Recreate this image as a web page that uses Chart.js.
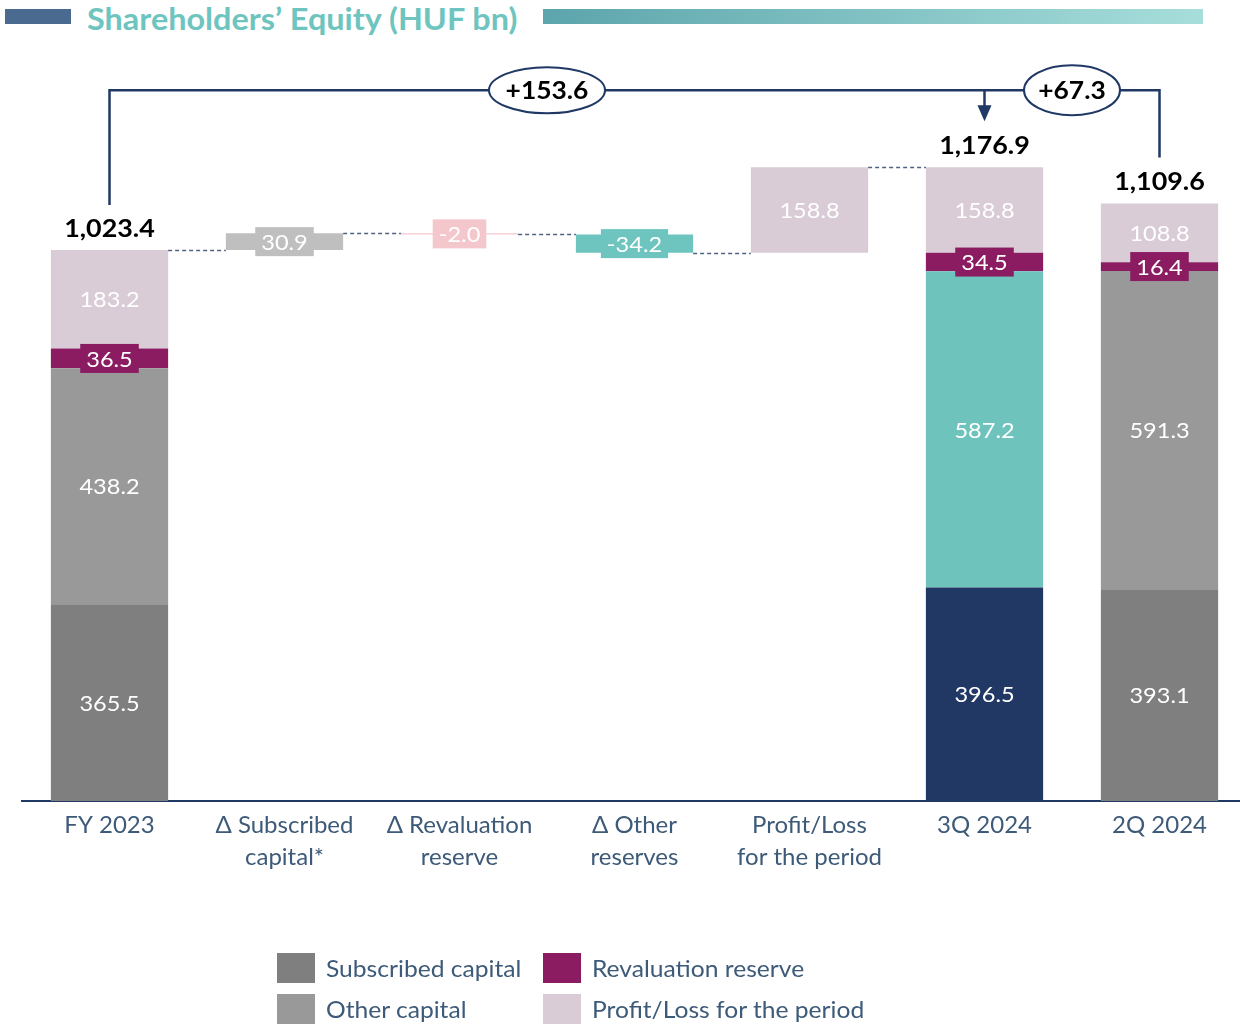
<!DOCTYPE html>
<html>
<head>
<meta charset="utf-8">
<script src="https://cdn.jsdelivr.net/npm/chart.js@4.4.1/dist/chart.umd.min.js"></script>
<style>
  html, body { margin: 0; padding: 0; background: #fff; overflow: hidden; width: 1240px; height: 1025px; }
  #wrap { position: relative; width: 1240px; height: 1025px; overflow: hidden; }
  #chart { position: absolute; left: 0; top: 0; }
  .bar-left { position: absolute; left: 5px; top: 9px; width: 66px; height: 15px; background: #4A6B8F; }
  .bar-right { position: absolute; left: 543px; top: 9px; width: 660px; height: 15px;
               background: linear-gradient(90deg, #5CA5AC, #A7DEDB); }
  .title { position: absolute; left: 87px; top: 0px; font: bold 30px Lato, sans-serif; color: #6EC4BE;
           line-height: 36px; white-space: nowrap; transform: scaleX(1.08); transform-origin: left center; }
  .legend-item { position: absolute; display: flex; align-items: center; font: 23px Lato, sans-serif;
                 color: #3D5A78; white-space: nowrap; }
  .swatch { width: 38px; height: 30px; margin-right: 11px; }
  .legend-item span { display: inline-block; transform: scaleX(1.07); transform-origin: left center; }
</style>
</head>
<body>
<div id="wrap">
  <div class="bar-left"></div>
  <div class="title">Shareholders’ Equity (HUF bn)</div>
  <div class="bar-right"></div>
  <canvas id="chart" width="1250" height="1025"></canvas>
  <div id="legend"></div>
</div>
<script>
// Categories along the bridge
const categories = [
  ['FY 2023'],
  ['Δ Subscribed', 'capital*'],
  ['Δ Revaluation', 'reserve'],
  ['Δ Other', 'reserves'],
  ['Profit/Loss', 'for the period'],
  ['3Q 2024'],
  ['2Q 2024']
];

// Equity components (HUF bn) for the period-end columns
const seriesNames = ['Subscribed capital', 'Other capital', 'Revaluation reserve', 'Profit/Loss for the period'];
const subscribedCapital  = [365.5, null, null, null, null, 396.5, 393.1];
const otherCapital       = [438.2, null, null, null, null, 587.2, 591.3];
const revaluationReserve = [36.5,  null, null, null, null, 34.5,  16.4];
const profitLoss         = [183.2, null, null, null, null, 158.8, 108.8];
const totals             = [1023.4, null, null, null, null, 1176.9, 1109.6];

// Movements between FY 2023 and 3Q 2024
const changes = [null, 30.9, -2.0, -34.2, 158.8, null, null];

// Overall changes shown in the bracket: FY 2023 -> 3Q 2024, 2Q 2024 -> 3Q 2024
const bridgeLabels = ['+153.6', '+67.3'];

// Colours
const legendColors = ['#7F7F7F', '#999999', '#8B1C62', '#D9CCD6'];
const segmentColors = [
  ['#7F7F7F', null, null, null, null, '#213764', '#7F7F7F'],
  ['#999999', null, null, null, null, '#6EC3BD', '#999999'],
  ['#8B1C62', null, null, null, null, '#8B1C62', '#8B1C62'],
  ['#D9CCD6', null, null, null, null, '#D9CCD6', '#D9CCD6']
];
const changeColors = [null, '#BFBFBF', '#F4C7CD', '#6EC4BE', '#D9CCD6', null, null];
const NAVY = '#1F3864';

// Build floating [start, end] segments for the stacked columns
const components = [subscribedCapital, otherCapital, revaluationReserve, profitLoss];
const stacked = components.map(() => categories.map(() => null));
categories.forEach((_, i) => {
  let cum = 0;
  components.forEach((arr, k) => {
    if (arr[i] != null) {
      stacked[k][i] = [cum, cum + arr[i]];
      cum += arr[i];
    }
  });
});

// Waterfall movements and the running level after each column
const changeBars = categories.map(() => null);
const levels = categories.map((_, i) => totals[i]);
let running = totals[0];
changes.forEach((c, i) => {
  if (c != null) {
    changeBars[i] = [running, running + c];
    running += c;
    levels[i] = running;
  }
});

const datasets = components.map((arr, k) => ({
  label: seriesNames[k],
  data: stacked[k],
  rawValues: arr,
  backgroundColor: segmentColors[k]
}));
datasets.push({
  label: 'Change',
  data: changeBars,
  rawValues: changes,
  backgroundColor: changeColors
});

// Text drawn slightly widened, centred on (x, y)
function wideText(ctx, text, x, y, sx) {
  ctx.save();
  ctx.translate(x, y);
  ctx.scale(sx, 1);
  ctx.fillText(text, 0, 0);
  ctx.restore();
}

// Labels, connectors and the bracket on top of the bars
const overlay = {
  id: 'overlay',
  afterDatasetsDraw(chart) {
    const ctx = chart.ctx;
    const xs = chart.scales.x, ys = chart.scales.y;
    const changeMeta = chart.getDatasetMeta(components.length);
    const anyMeta = chart.getDatasetMeta(0);
    const halfWidth = (i) => {
      const el = (changeBars[i] ? changeMeta : anyMeta).data[i];
      return el.width / 2;
    };

    // dashed connectors between consecutive columns
    ctx.save();
    ctx.strokeStyle = '#4F6283';
    ctx.lineWidth = 1.3;
    ctx.setLineDash([4, 3]);
    for (let i = 0; i < categories.length - 1; i++) {
      if (changes[i] == null && changes[i + 1] == null) continue;
      const yy = Math.round(ys.getPixelForValue(levels[i])) + 0.5;
      const x1 = xs.getPixelForValue(i) + halfWidth(i);
      const x2 = xs.getPixelForValue(i + 1) - halfWidth(i + 1);
      ctx.beginPath();
      ctx.moveTo(x1, yy);
      ctx.lineTo(x2, yy);
      ctx.stroke();
    }
    ctx.restore();

    // value labels inside each bar
    ctx.save();
    ctx.textAlign = 'center';
    ctx.textBaseline = 'middle';
    ctx.font = '22px Lato, sans-serif';
    const sxVal = 1.07;
    chart.data.datasets.forEach((ds, k) => {
      const meta = chart.getDatasetMeta(k);
      ds.data.forEach((v, i) => {
        if (v == null) return;
        const el = meta.data[i];
        const p = el.getProps(['x', 'y', 'base'], true);
        const cy = (p.y + p.base) / 2;
        const h = Math.abs(p.base - p.y);
        const text = ds.rawValues[i].toFixed(1);
        const color = Array.isArray(ds.backgroundColor) ? ds.backgroundColor[i] : ds.backgroundColor;
        if (h < 30) {
          const w = ctx.measureText(text).width * sxVal + 12;
          ctx.fillStyle = color;
          ctx.fillRect(p.x - w / 2, cy - 14.5, w, 29);
        }
        ctx.fillStyle = '#FFFFFF';
        wideText(ctx, text, p.x, cy + 1, sxVal);
      });
    });

    // totals above the period-end columns
    ctx.font = 'bold 24px Lato, sans-serif';
    ctx.fillStyle = '#000000';
    totals.forEach((t, i) => {
      if (t == null) return;
      const label = t.toLocaleString('en-US', { minimumFractionDigits: 1, maximumFractionDigits: 1 });
      wideText(ctx, label, xs.getPixelForValue(i), ys.getPixelForValue(t) - 21, 1.12);
    });
    ctx.restore();

    // bracket linking FY 2023, 3Q 2024 and 2Q 2024
    const iStart = 0, iMid = 5, iEnd = 6;
    const xA = xs.getPixelForValue(iStart), xB = xs.getPixelForValue(iMid), xC = xs.getPixelForValue(iEnd);
    const yLine = chart.chartArea.top + 43;
    ctx.save();
    ctx.strokeStyle = NAVY;
    ctx.fillStyle = NAVY;
    ctx.lineWidth = 2.5;
    ctx.lineJoin = 'miter';
    ctx.beginPath();
    ctx.moveTo(xA, ys.getPixelForValue(totals[iStart]) - 45);
    ctx.lineTo(xA, yLine);
    ctx.lineTo(xC, yLine);
    ctx.lineTo(xC, ys.getPixelForValue(totals[iEnd]) - 46);
    ctx.stroke();

    const tipY = ys.getPixelForValue(totals[iMid]) - 46;
    ctx.beginPath();
    ctx.moveTo(xB, yLine);
    ctx.lineTo(xB, tipY - 14);
    ctx.stroke();
    ctx.beginPath();
    ctx.moveTo(xB - 7, tipY - 16);
    ctx.lineTo(xB + 7, tipY - 16);
    ctx.lineTo(xB, tipY);
    ctx.closePath();
    ctx.fill();

    const bubbles = [
      { cx: (xA + xB) / 2, rx: 58, ry: 23, text: bridgeLabels[0] },
      { cx: (xB + xC) / 2, rx: 48, ry: 25, text: bridgeLabels[1] }
    ];
    ctx.lineWidth = 2;
    ctx.textAlign = 'center';
    ctx.textBaseline = 'middle';
    ctx.font = 'bold 24px Lato, sans-serif';
    bubbles.forEach(b => {
      ctx.beginPath();
      ctx.ellipse(b.cx, yLine, b.rx, b.ry, 0, 0, Math.PI * 2);
      ctx.fillStyle = '#FFFFFF';
      ctx.fill();
      ctx.strokeStyle = NAVY;
      ctx.stroke();
      ctx.fillStyle = '#000000';
      wideText(ctx, b.text, b.cx, yLine + 1, 1.1);
    });
    ctx.restore();
  }
};

new Chart(document.getElementById('chart'), {
  type: 'bar',
  data: { labels: categories, datasets },
  options: {
    responsive: false,
    animation: false,
    events: [],
    layout: { padding: { left: 22, right: 3, top: 47.2, bottom: 0 } },
    plugins: { legend: { display: false }, tooltip: { enabled: false } },
    datasets: { bar: { grouped: false, categoryPercentage: 1, barPercentage: 0.67, borderWidth: 0 } },
    scales: {
      x: {
        grid: { display: false, drawTicks: false },
        border: { display: true, color: NAVY, width: 2 },
        ticks: {
          font: { family: 'Lato', size: 24, lineHeight: 1.34 },
          color: '#3D5A78',
          padding: 8,
          maxRotation: 0,
          autoSkip: false
        },
        afterFit(scale) { scale.height = 224; }
      },
      y: { display: false, min: 0, max: 1400 }
    }
  },
  plugins: [overlay]
});

// Legend laid out in two columns
const legendPos = [[277, 953], [277, 994], [543, 953], [543, 994]];
const legend = document.getElementById('legend');
seriesNames.forEach((name, k) => {
  const item = document.createElement('div');
  item.className = 'legend-item';
  item.style.left = legendPos[k][0] + 'px';
  item.style.top = legendPos[k][1] + 'px';
  const sw = document.createElement('div');
  sw.className = 'swatch';
  sw.style.background = legendColors[k];
  const tx = document.createElement('span');
  tx.textContent = name;
  item.appendChild(sw);
  item.appendChild(tx);
  legend.appendChild(item);
});
</script>
</body>
</html>
